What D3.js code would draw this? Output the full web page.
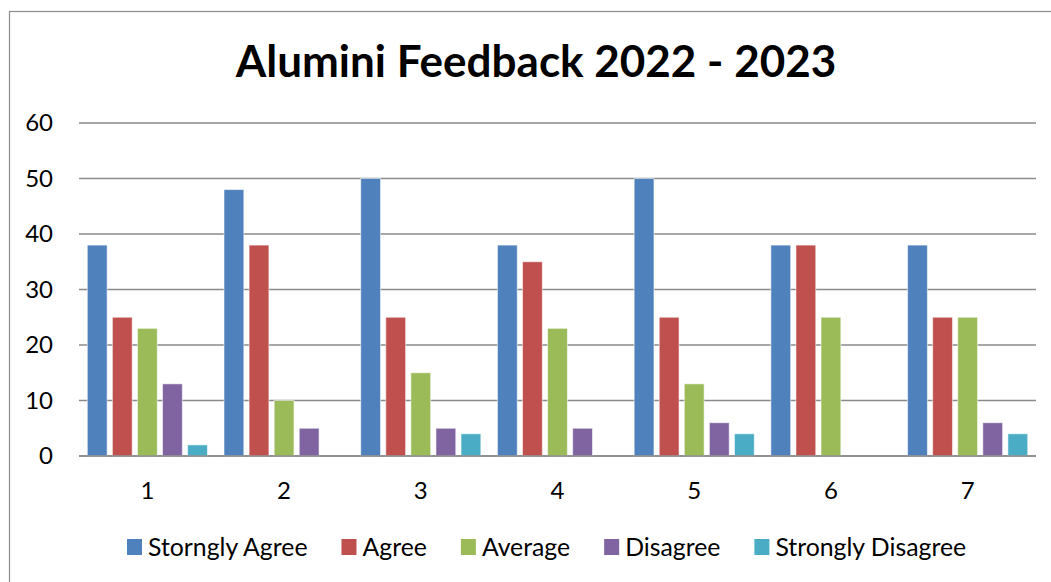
<!DOCTYPE html>
<html>
<head>
<meta charset="utf-8">
<script src="https://cdn.jsdelivr.net/npm/d3@7"></script>
<style>
  html, body { margin: 0; padding: 0; background: #fff; }
  svg { display: block; font-family: Lato, "Open Sans", sans-serif; }
</style>
</head>
<body>
<svg id="viz" width="1051" height="582"></svg>
<script>
// Chart values
const categories = ["1", "2", "3", "4", "5", "6", "7"];
const seriesNames = ["Storngly Agree", "Agree", "Average", "Disagree", "Strongly Disagree"];
const storinglyAgree   = [38, 48, 50, 38, 50, 38, 38];
const agree            = [25, 38, 25, 35, 25, 38, 25];
const average          = [23, 10, 15, 23, 13, 25, 25];
const disagree         = [13, 5, 5, 5, 6, 0, 6];
const stronglyDisagree = [2, 0, 4, 0, 4, 0, 4];
const yTicks = [0, 10, 20, 30, 40, 50, 60];
const colors = ["#4F81BD", "#C0504D", "#9BBB59", "#8064A2", "#4BACC6"];

const seriesValues = [storinglyAgree, agree, average, disagree, stronglyDisagree];

const W = 1051, H = 582, M = {t:123, r:15, b:126, l:79};
const innerW = W - M.l - M.r, innerH = H - M.t - M.b;

const svg = d3.select("#viz");

// outer frame
svg.append("rect")
  .attr("x", 9.5).attr("y", 11.5)
  .attr("width", W + 10).attr("height", H + 10)
  .attr("fill", "none").attr("stroke", "#8c8c8c").attr("stroke-width", 1.2);

// title
svg.append("text")
  .attr("x", 536).attr("y", 77)
  .attr("text-anchor", "middle")
  .attr("font-size", 44).attr("font-weight", 700)
  .attr("fill", "#000")
  .text("Alumini Feedback 2022 - 2023");

const g = svg.append("g").attr("transform", `translate(${M.l},${M.t})`);

const x0 = d3.scaleBand().domain(categories).range([0, innerW]).padding(0);
const x1 = d3.scaleBand().domain(seriesNames)
  .range([8.3, x0.bandwidth() - 8.3]).paddingInner(0.21).paddingOuter(0);
const y = d3.scaleLinear().domain([0, 60]).range([innerH, 0]);

// gridlines
g.append("g").selectAll("line")
  .data(yTicks)
  .join("line")
    .attr("x1", 0).attr("x2", innerW)
    .attr("y1", d => y(d)).attr("y2", d => y(d))
    .attr("stroke", "#8a8a8a").attr("stroke-width", 1.6);

// y axis labels
const gy = g.append("g")
  .call(d3.axisLeft(y).tickValues(yTicks).tickSize(0).tickPadding(26));
gy.select(".domain").remove();
gy.selectAll("text").attr("font-size", 24).attr("fill", "#000")
  .attr("font-family", "Lato, sans-serif");

// x axis labels
const gx = g.append("g").attr("transform", `translate(0,${innerH})`)
  .call(d3.axisBottom(x0).tickSize(0).tickPadding(26));
gx.select(".domain").remove();
gx.selectAll("text").attr("font-size", 24).attr("fill", "#000")
  .attr("font-family", "Lato, sans-serif");

// bars
const rows = [];
categories.forEach((c, i) => {
  seriesNames.forEach((s, j) => {
    rows.push({cat: c, series: s, value: seriesValues[j][i], color: colors[j]});
  });
});

g.append("g").selectAll("rect")
  .data(rows.filter(d => d.value > 0))
  .join("rect")
    .attr("x", d => x0(d.cat) + x1(d.series))
    .attr("y", d => y(d.value))
    .attr("width", x1.bandwidth())
    .attr("height", d => innerH - y(d.value))
    .attr("fill", d => d.color)
    .attr("stroke", "rgba(255,255,255,0.55)")
    .attr("stroke-width", 1);

// baseline on top
g.append("line")
  .attr("x1", 0).attr("x2", innerW)
  .attr("y1", y(0)).attr("y2", y(0))
  .attr("stroke", "#8a8a8a").attr("stroke-width", 1.6);

// legend
const legend = svg.append("g").attr("transform", "translate(127,547)");
let lx = 0;
seriesNames.forEach((s, j) => {
  const item = legend.append("g").attr("transform", `translate(${lx},0)`);
  item.append("rect")
    .attr("x", 0).attr("y", -8).attr("width", 15).attr("height", 16)
    .attr("fill", colors[j]);
  const t = item.append("text")
    .attr("x", 21).attr("y", 0).attr("dy", "0.35em")
    .attr("font-size", 24.8).attr("fill", "#000")
    .text(s);
  lx += 21 + t.node().getComputedTextLength() + 34;
});
</script>
</body>
</html>
